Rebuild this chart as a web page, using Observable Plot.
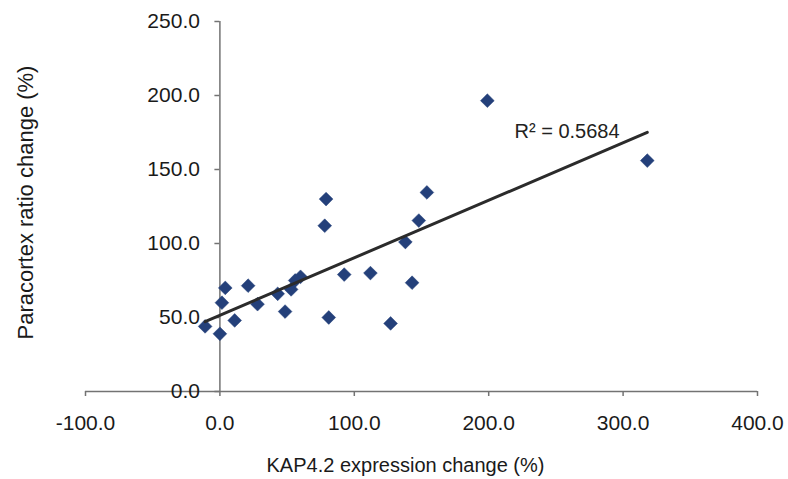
<!DOCTYPE html>
<html>
<head>
<meta charset="utf-8">
<script src="https://cdn.jsdelivr.net/npm/d3@7"></script>
<script src="https://cdn.jsdelivr.net/npm/@observablehq/plot@0.6"></script>
<style>
  html, body { margin: 0; padding: 0; background: #fff; }
  #chart svg { display: block; }
</style>
</head>
<body>
<div id="chart"></div>
<script>
// KAP4.2 expression change (%) vs paracortex ratio change (%)
const kapChange = [-11, 0, 1.5, 4, 11, 21, 28, 43, 48.5, 53, 56, 60,
  81, 92.5, 112, 127, 143, 138, 78, 79, 148, 154, 199, 318];
const paracortexChange = [44, 39, 60, 70, 48, 71.5, 59, 66, 54, 69, 75, 77.5,
  50, 79, 80, 46, 73.5, 101, 112, 130, 115.5, 134.5, 196.5, 156];
const xTicks = [-100, 0, 100, 200, 300, 400];
const yTicks = [0, 50, 100, 150, 200, 250];
const rSquaredLabel = "R\u00B2 = 0.5684";
const xTitle = "KAP4.2 expression change (%)";
const yTitle = "Paracortex ratio change (%)";

const points = kapChange.map((x, i) => ({x, y: paracortexChange[i]}));
const axisColor = "#737373";
const textColor = "#1a1a1a";
const font = "'Liberation Sans', Arial, sans-serif";

const chart = Plot.plot({
  width: 788,
  height: 479,
  marginLeft: 85,
  marginRight: 31,
  marginTop: 21,
  marginBottom: 88,
  style: {fontFamily: font, background: "#fff"},
  x: {domain: [-100, 400], axis: null},
  y: {domain: [0, 250], axis: null},
  marks: [
    // axes crossing at the origin
    Plot.ruleY([0], {x1: -100, x2: 400, stroke: axisColor, strokeWidth: 1.5}),
    Plot.ruleX([0], {y1: 0, y2: 250, stroke: axisColor, strokeWidth: 1.5}),
    Plot.ruleX(xTicks, {x: d => d, y1: 0, y2: 0, insetBottom: -5, stroke: axisColor, strokeWidth: 1.5}),
    Plot.ruleY(yTicks, {y: d => d, x1: 0, x2: 0, insetLeft: -5, stroke: axisColor, strokeWidth: 1.5}),
    Plot.text(xTicks, {x: d => d, y: 0, dy: 32, text: d => d.toFixed(1),
      fontSize: 21, fill: textColor}),
    Plot.text(yTicks, {x: 0, y: d => d, dx: -20, text: d => d.toFixed(1),
      textAnchor: "end", fontSize: 21, fill: textColor}),
    // data points
    Plot.dot(points, {x: "x", y: "y", symbol: "diamond2", r: 6.2,
      fill: "#24407a", stroke: "#24407a", strokeWidth: 0.5}),
    // least-squares trend line
    Plot.linearRegressionY(points, {x: "x", y: "y", ci: 0,
      stroke: "#2b2b2b", strokeWidth: 3}),
    Plot.text([rSquaredLabel], {frameAnchor: "top-left", dx: 429, dy: 110,
      textAnchor: "start", lineAnchor: "middle", fontSize: 20, fill: "#222"}),
    // axis titles
    Plot.text([xTitle], {frameAnchor: "bottom", dx: -16, dy: 74,
      textAnchor: "middle", lineAnchor: "middle", fontSize: 20, fill: textColor}),
    Plot.text([yTitle], {frameAnchor: "left", dx: -60, dy: -4, rotate: -90,
      textAnchor: "middle", lineAnchor: "middle", fontSize: 22, fill: textColor})
  ]
});
document.getElementById("chart").append(chart);
</script>
</body>
</html>
